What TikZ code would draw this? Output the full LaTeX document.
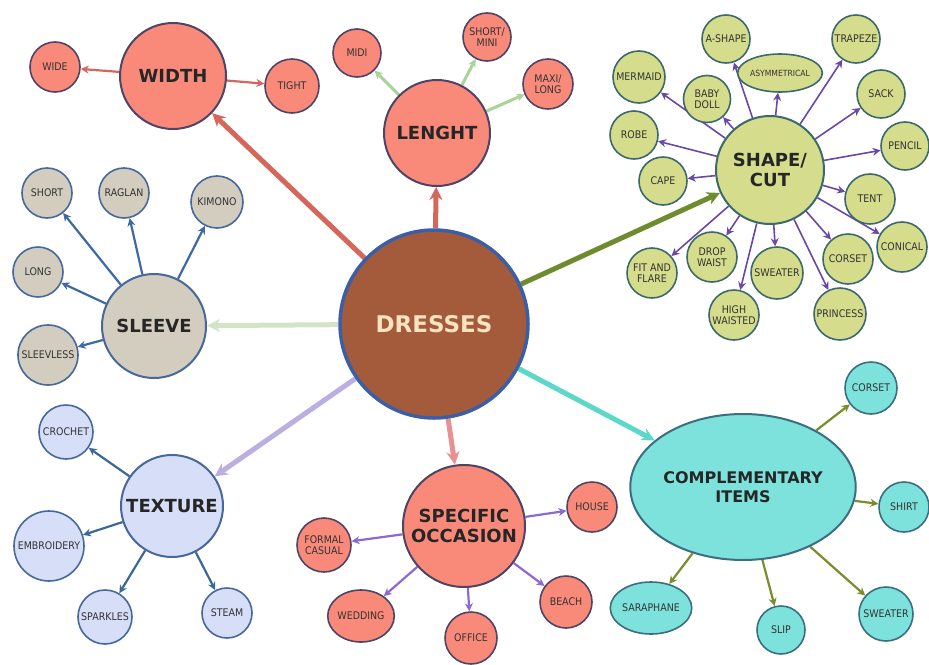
\documentclass[tikz,border=0pt]{standalone}
\usepackage{fontspec}
\setmainfont{DejaVu Sans}
\newfontfamily\lblfont[FakeStretch=0.9]{DejaVu Sans}
\usetikzlibrary{arrows.meta,shapes.geometric}
\pgfdeclarelayer{bg}
\pgfsetlayers{bg,main}
\definecolor{salfill}{HTML}{F98A7A}
\definecolor{salborder}{HTML}{4E4466}
\definecolor{shpfill}{HTML}{D5DC8C}
\definecolor{shpborder}{HTML}{3C6A6C}
\definecolor{slvfill}{HTML}{D2CDBE}
\definecolor{bluborder}{HTML}{46689C}
\definecolor{texfill}{HTML}{D6DEF8}
\definecolor{cmpfill}{HTML}{7EE2DC}
\definecolor{cmpborder}{HTML}{3A6E80}
\definecolor{drsfill}{HTML}{A35B3B}
\definecolor{drsborder}{HTML}{3B5EA6}
\definecolor{drstext}{HTML}{F8E2C0}
\definecolor{redarrow}{HTML}{D5675A}
\definecolor{lenarrow}{HTML}{A8D49A}
\definecolor{shparrow}{HTML}{6A48A8}
\definecolor{slvarrow}{HTML}{3E68A8}
\definecolor{texarrow}{HTML}{3C6898}
\definecolor{occarrow}{HTML}{8C68D4}
\definecolor{cmparrow}{HTML}{7A8C2C}
\definecolor{mshape}{HTML}{6E8C2E}
\definecolor{msleeve}{HTML}{D4E2C8}
\definecolor{mtexture}{HTML}{BBAEE2}
\definecolor{moccasion}{HTML}{E99090}
\definecolor{mcomp}{HTML}{5CD8C8}
\begin{document}
\begin{tikzpicture}[x=1pt,y=-1pt,
  hub/.style={circle,draw,line width=2pt,inner sep=0pt,align=center,
    font=\bfseries\fontsize{18}{20}\selectfont,text=black!85},
  leaf/.style={circle,draw,line width=1.6pt,inner sep=0pt,align=center,
    font=\lblfont\fontsize{10.5}{11.5}\selectfont,text=black!80},
  oval/.style={ellipse,draw,line width=1.6pt,inner sep=0pt,align=center,
    font=\lblfont\fontsize{10.5}{11.5}\selectfont,text=black!80},
  sal/.style={fill=salfill,draw=salborder},
  shp/.style={fill=shpfill,draw=shpborder},
  slv/.style={fill=slvfill,draw=bluborder},
  tex/.style={fill=texfill,draw=bluborder},
  cmp/.style={fill=cmpfill,draw=cmpborder},
  bigarrow/.style={line width=5pt,-{Stealth[length=13pt,width=13pt]}},
  smallarrow/.style={line width=2.2pt,-{Stealth[length=8pt,width=8pt]}}
]
\useasboundingbox (0,0) rectangle (929,664);

% centre
\node[circle,draw=drsborder,fill=drsfill,line width=3.5pt,minimum size=188pt,inner sep=0pt,
  font=\bfseries\fontsize{23}{25}\selectfont,text=drstext] (dresses) at (434,324) {DRESSES};

% width
\node[hub,sal,minimum size=106pt] (width) at (173,76) {WIDTH};
\node[leaf,sal,minimum size=50pt] (wide) at (55,67) {WIDE};
\node[leaf,sal,minimum size=54pt] (tight) at (292,86) {TIGHT};

% lenght
\node[hub,sal,minimum size=106pt] (lenght) at (437,133) {LENGHT};
\node[leaf,sal,minimum size=48pt] (midi) at (357,53) {MIDI};
\node[leaf,sal,minimum size=48pt] (shortmini) at (487,37) {SHORT/\\MINI};
\node[leaf,sal,minimum size=50pt] (maxilong) at (548,84) {MAXI/\\LONG};

% shape / cut
\node[hub,shp,minimum size=108pt] (shape) at (770,170) {SHAPE/\\CUT};
\node[leaf,shp,minimum size=48pt] (ashape) at (726,39) {A-SHAPE};
\node[oval,shp,minimum width=72pt,minimum height=38pt,font=\lblfont\fontsize{8.5}{10}\selectfont] (asym) at (780,73) {ASYMMETRICAL};
\node[leaf,shp,minimum size=48pt] (trapeze) at (856,39) {TRAPEZE};
\node[leaf,shp,minimum size=48pt] (sack) at (881,94) {SACK};
\node[leaf,shp,minimum size=48pt] (pencil) at (905,146) {PENCIL};
\node[leaf,shp,minimum size=52pt] (mermaid) at (639,77) {MERMAID};
\node[leaf,shp,minimum size=47pt] (babydoll) at (707,99) {BABY\\DOLL};
\node[leaf,shp,minimum size=48pt] (robe) at (634,135) {ROBE};
\node[leaf,shp,minimum size=48pt] (cape) at (663,181) {CAPE};
\node[leaf,shp,minimum size=50pt] (tent) at (870,199) {TENT};
\node[leaf,shp,minimum size=50pt] (conical) at (902,247) {CONICAL};
\node[leaf,shp,minimum size=50pt] (corsetA) at (848,259) {CORSET};
\node[leaf,shp,minimum size=52pt] (princess) at (840,314) {PRINCESS};
\node[leaf,shp,minimum size=52pt] (sweaterA) at (777,273) {SWEATER};
\node[leaf,shp,minimum size=50pt] (highw) at (734,315) {HIGH\\WAISTED};
\node[leaf,shp,minimum size=50pt] (dropw) at (712,257) {DROP\\WAIST};
\node[leaf,shp,minimum size=50pt] (fitflare) at (652,273) {FIT AND\\FLARE};

% sleeve
\node[hub,slv,minimum size=104pt] (sleeve) at (154,326) {SLEEVE};
\node[leaf,slv,minimum size=50pt] (shortS) at (47,193) {SHORT};
\node[leaf,slv,minimum size=50pt] (raglan) at (124,193) {RAGLAN};
\node[leaf,slv,minimum size=52pt] (kimono) at (217,202) {KIMONO};
\node[leaf,slv,minimum size=50pt] (long) at (38,272) {LONG};
\node[leaf,slv,minimum size=60pt] (sleevless) at (48,355) {SLEEVLESS};

% texture
\node[hub,tex,minimum size=102pt] (texture) at (172,506) {TEXTURE};
\node[leaf,tex,minimum size=54pt] (crochet) at (66,432) {CROCHET};
\node[leaf,tex,minimum size=70pt] (embroidery) at (49,546) {EMBROIDERY};
\node[leaf,tex,minimum size=54pt] (sparkles) at (105,617) {SPARKLES};
\node[leaf,tex,minimum size=50pt] (steam) at (227,613) {STEAM};

% occasion
\node[hub,sal,minimum size=122pt] (occasion) at (464,526) {SPECIFIC\\OCCASION};
\node[leaf,sal,minimum size=54pt] (formal) at (324,545) {FORMAL\\CASUAL};
\node[leaf,sal,minimum size=50pt] (house) at (592,507) {HOUSE};
\node[leaf,sal,minimum size=52pt] (beach) at (566,602) {BEACH};
\node[leaf,sal,minimum size=52pt] (office) at (471,638) {OFFICE};
\node[oval,sal,minimum width=60pt,minimum height=52pt] (wedding) at (361,616) {WEDDING};

% complementary
\node[ellipse,draw,line width=2pt,inner sep=0pt,align=center,cmp,minimum width=170pt,minimum height=146pt,
  font=\bfseries\fontsize{16}{19}\selectfont,text=black!85] (comp) at (743,487) {COMPLEMENTARY\\ITEMS};
\node[leaf,cmp,minimum size=52pt] (corsetB) at (871,388) {CORSET};
\node[leaf,cmp,minimum size=50pt] (shirt) at (904,507) {SHIRT};
\node[leaf,cmp,minimum size=54pt] (sweaterB) at (886,614) {SWEATER};
\node[leaf,cmp,minimum size=48pt] (slip) at (781,630) {SLIP};
\node[oval,cmp,minimum width=62pt,minimum height=52pt] (saraphane) at (651,608) {SARAPHANE};

\begin{pgfonlayer}{bg}
  \draw[bigarrow,draw=redarrow] (dresses) -- (width);
  \draw[bigarrow,draw=redarrow] (dresses) -- (lenght);
  \draw[bigarrow,draw=mshape] (dresses) -- (shape);
  \draw[bigarrow,draw=msleeve] (dresses) -- (sleeve);
  \draw[bigarrow,draw=mtexture] (dresses) -- (texture);
  \draw[bigarrow,draw=moccasion] (dresses) -- (occasion);
  \draw[bigarrow,draw=mcomp] (dresses) -- (comp);

  \foreach \t in {wide,tight} \draw[smallarrow,draw=redarrow] (width) -- (\t);
  \foreach \t in {midi,shortmini,maxilong} \draw[smallarrow,line width=3pt,draw=lenarrow] (lenght) -- (\t);
  \foreach \t in {ashape,asym,trapeze,sack,pencil,mermaid,babydoll,robe,cape,tent,conical,corsetA,princess,sweaterA,highw,dropw,fitflare}
    \draw[smallarrow,line width=1.6pt,draw=shparrow] (shape) -- (\t);
  \foreach \t in {shortS,raglan,kimono,long,sleevless} \draw[smallarrow,draw=slvarrow] (sleeve) -- (\t);
  \foreach \t in {crochet,embroidery,sparkles,steam} \draw[smallarrow,draw=texarrow] (texture) -- (\t);
  \foreach \t in {formal,house,beach,office,wedding} \draw[smallarrow,draw=occarrow] (occasion) -- (\t);
  \foreach \t in {corsetB,shirt,sweaterB,slip,saraphane} \draw[smallarrow,draw=cmparrow] (comp) -- (\t);
\end{pgfonlayer}
\end{tikzpicture}
\end{document}
